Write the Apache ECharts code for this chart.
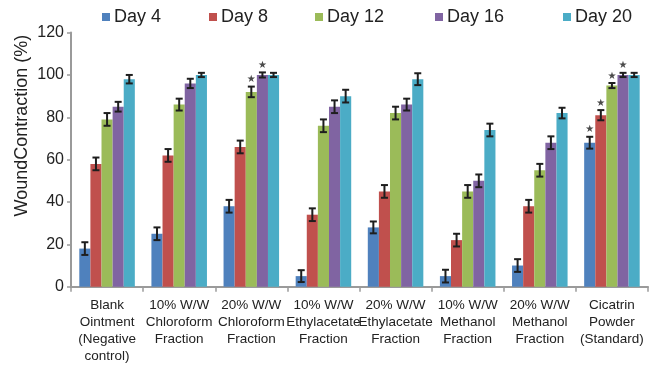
<!DOCTYPE html>
<html>
<head>
<meta charset="utf-8">
<script src="https://cdn.jsdelivr.net/npm/echarts@6/dist/echarts.min.js"></script>
<style>
  html, body { margin: 0; padding: 0; background: #fff; }
  #chart { width: 653px; height: 367px; }
</style>
</head>
<body>
<div id="chart"></div>
<script>
// Treatment groups on the x axis
const categories = [
  'Blank\nOintment\n(Negative\ncontrol)',
  '10% W/W\nChloroform\nFraction',
  '20% W/W\nChloroform\nFraction',
  '10% W/W\nEthylacetate\nFraction',
  '20% W/W\nEthylacetate\nFraction',
  '10% W/W\nMethanol\nFraction',
  '20% W/W\nMethanol\nFraction',
  'Cicatrin\nPowder\n(Standard)'
];
const dayNames = ['Day 4', 'Day 8', 'Day 12', 'Day 16', 'Day 20'];

// Mean wound contraction (%) per day
const day4  = [18, 25, 38,  5, 28,  5, 10,  68];
const day8  = [58, 62, 66, 34, 45, 22, 38,  81];
const day12 = [79, 86, 92, 76, 82, 45, 55,  95];
const day16 = [85, 96, 100, 85, 86, 50, 68, 100];
const day20 = [98, 100, 100, 90, 98, 74, 82, 100];

// Error (± %) per day
const err4  = [3, 3, 3, 2.8, 2.8, 3, 3, 2.8];
const err8  = [3, 3, 3, 3, 3, 3, 3, 2.4];
const err12 = [3, 2.8, 2.5, 3, 3, 3, 3, 1.2];
const err16 = [2.3, 2.2, 1.2, 3, 2.8, 3, 3, 1];
const err20 = [2, 1, 1, 3, 2.8, 3, 2.5, 1];

// Significant results: [category index, day index]
const significant = [[2, 2], [2, 3], [7, 0], [7, 1], [7, 2], [7, 3]];

const yTicks = [0, 20, 40, 60, 80, 100, 120];

const means = [day4, day8, day12, day16, day20];
const errs = [err4, err8, err12, err16, err20];
const colors = ['#4F81BD', '#C0504D', '#9BBB59', '#8064A2', '#4BACC6'];
const legendLeft = [102, 209, 315, 435, 563];

const CAT_GAP = 0.23;
const nSeries = means.length;

function barCenterX(api, cat, s) {
  const center = api.coord([cat, 0])[0];
  const band = api.size([1, 0])[0];
  const group = band * (1 - CAT_GAP);
  const w = group / nSeries;
  return center - group / 2 + w * (s + 0.5);
}

const errData = [];
means.forEach((arr, s) => arr.forEach((v, c) => {
  errData.push([c, s, v - errs[s][c], v + errs[s][c]]);
}));
const starData = significant.map(([c, s]) => [c, s, means[s][c] + errs[s][c]]);

const font = '"Liberation Sans", Arial, sans-serif';

const chart = echarts.init(document.getElementById('chart'), null, { renderer: 'canvas' });

const barSeries = means.map((arr, s) => ({
  name: dayNames[s],
  type: 'bar',
  data: arr,
  barGap: 0,
  barCategoryGap: (CAT_GAP * 100) + '%',
  itemStyle: { color: colors[s] },
  z: 2
}));

chart.setOption({
  animation: false,
  textStyle: { fontFamily: font },
  legend: dayNames.map((d, i) => ({
    data: [d],
    left: legendLeft[i],
    top: 8,
    padding: 0,
    icon: 'rect',
    itemWidth: 8,
    itemHeight: 8,
    itemGap: 5,
    textStyle: { fontSize: 18, color: '#222', fontFamily: font, padding: [0, 0, 0, -1] },
    selectedMode: false
  })),
  grid: { left: 71, right: 5, top: 32.6, bottom: 80.3 },
  xAxis: {
    type: 'category',
    data: categories,
    axisLine: { lineStyle: { color: '#9a9a9a', width: 2 } },
    axisTick: { show: true, length: 5, interval: 0, lineStyle: { color: '#9a9a9a', width: 1.5 } },
    axisLabel: {
      interval: 0,
      fontSize: 13.5,
      lineHeight: 17,
      color: '#222',
      margin: 10,
      fontFamily: font
    }
  },
  yAxis: {
    type: 'value',
    min: yTicks[0],
    max: yTicks[yTicks.length - 1],
    interval: yTicks[1] - yTicks[0],
    name: 'WoundContraction (%)',
    nameLocation: 'middle',
    nameGap: 40,
    nameMoveOverlap: false,
    nameRotate: 90,
    nameTextStyle: { fontSize: 18, color: '#222', fontFamily: font, padding: [0, 0, 0, 68] },
    axisLine: { show: true, lineStyle: { color: '#9a9a9a', width: 2 } },
    axisTick: { show: true, length: 4, lineStyle: { color: '#9a9a9a', width: 1.5 } },
    axisLabel: { fontSize: 16, color: '#222', margin: 7, fontFamily: font },
    splitLine: { show: false }
  },
  series: barSeries.concat([
    {
      name: 'error',
      type: 'custom',
      data: errData,
      z: 5,
      renderItem: function (params, api) {
        const c = api.value(0), s = api.value(1);
        const x = barCenterX(api, c, s);
        const yLo = api.coord([c, api.value(2)])[1];
        const yHi = api.coord([c, api.value(3)])[1];
        const cap = 3.5;
        const style = { stroke: '#1e1e1e', lineWidth: 2 };
        return {
          type: 'group',
          children: [
            { type: 'line', shape: { x1: x, y1: yLo, x2: x, y2: yHi }, style: style },
            { type: 'line', shape: { x1: x - cap, y1: yLo, x2: x + cap, y2: yLo }, style: style },
            { type: 'line', shape: { x1: x - cap, y1: yHi, x2: x + cap, y2: yHi }, style: style }
          ]
        };
      }
    },
    {
      name: 'significance',
      type: 'custom',
      data: starData,
      z: 6,
      renderItem: function (params, api) {
        const c = api.value(0), s = api.value(1);
        const x = barCenterX(api, c, s);
        const y = api.coord([c, api.value(2)])[1];
        return {
          type: 'text',
          style: {
            text: '★',
            x: x,
            y: y - 7,
            align: 'center',
            verticalAlign: 'middle',
            fill: '#4a4a4a',
            font: '10px "DejaVu Sans", sans-serif'
          }
        };
      }
    }
  ])
});
</script>
</body>
</html>
